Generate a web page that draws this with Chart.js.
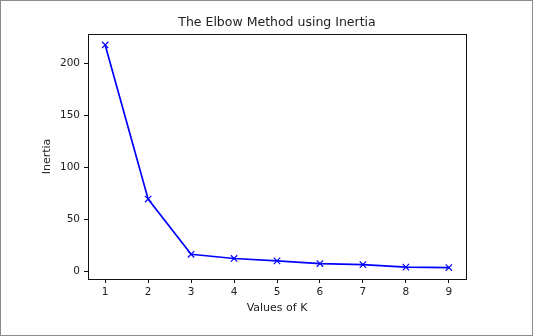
<!DOCTYPE html>
<html>
<head>
<meta charset="utf-8">
<script src="https://cdn.jsdelivr.net/npm/chart.js@4.4.0/dist/chart.umd.min.js"></script>
<style>
  html, body { margin: 0; padding: 0; background: #fff; }
  canvas { display: block; }
</style>
</head>
<body>
<canvas id="elbowChart" width="533" height="336"></canvas>
<script>
// K values tried and the inertia obtained for each
const kValues = [1, 2, 3, 4, 5, 6, 7, 8, 9];
const inertia = [217.5, 69.5, 16.5, 12.5, 10.2, 7.6, 6.6, 4.2, 3.8];
const yTicks = [0, 50, 100, 150, 200];

const FONT = "'DejaVu Sans', sans-serif";
const TEXT = "#222";

// outer frame around the figure and the box around the axes
const framePlugin = {
    id: "frame",
    beforeDraw(chart) {
        const ctx = chart.ctx;
        ctx.save();
        ctx.fillStyle = "#fff";
        ctx.fillRect(0, 0, chart.width, chart.height);
        ctx.strokeStyle = "#8c8c8c";
        ctx.lineWidth = 1;
        ctx.strokeRect(0.5, 0.5, chart.width - 1, chart.height - 1);
        ctx.restore();
    },
    afterDatasetsDraw(chart) {
        const a = chart.chartArea;
        const ctx = chart.ctx;
        ctx.save();
        ctx.strokeStyle = "#111";
        ctx.lineWidth = 1;
        ctx.strokeRect(Math.round(a.left) + 0.5, Math.round(a.top) + 0.5,
            Math.round(a.right - a.left), Math.round(a.bottom - a.top));
        ctx.restore();
    }
};

let ctx = document.getElementById("elbowChart").getContext("2d");

new Chart(ctx, {
    type: "line",
    data: {
        datasets: [{
            data: kValues.map((k, i) => ({ x: k, y: inertia[i] })),
            borderColor: "#0000ff",
            borderWidth: 1.7,
            pointStyle: "crossRot",
            pointRadius: 4.5,
            pointBorderColor: "#0000ff",
            pointBorderWidth: 1.2,
            tension: 0,
            fill: false
        }]
    },
    options: {
        responsive: false,
        devicePixelRatio: 1,
        animation: false,
        layout: { padding: { left: 0, right: 67, top: 0, bottom: 0 } },
        plugins: {
            legend: { display: false },
            tooltip: { enabled: false },
            title: {
                display: true,
                fullSize: false,
                text: "The Elbow Method using Inertia",
                color: TEXT,
                font: { family: FONT, size: 12.5, weight: "normal" },
                padding: { top: 15, bottom: 4 }
            }
        },
        scales: {
            x: {
                type: "linear",
                min: 0.6,
                max: 9.4,
                afterBuildTicks: scale => { scale.ticks = kValues.map(v => ({ value: v })); },
                afterFit: scale => { scale.height = 57; },
                grid: { drawOnChartArea: false, tickLength: 4, color: "#111" },
                border: { display: false },
                ticks: { color: TEXT, font: { family: FONT, size: 10.5 }, padding: 3, maxRotation: 0 },
                title: {
                    display: true,
                    text: "Values of K",
                    color: TEXT,
                    font: { family: FONT, size: 11 },
                    padding: { top: 0, bottom: 21 }
                }
            },
            y: {
                min: -7.2,
                max: 228,
                afterBuildTicks: scale => { scale.ticks = yTicks.map(v => ({ value: v })); },
                afterFit: scale => { scale.width = 88; },
                grid: { drawOnChartArea: false, tickLength: 4, color: "#111" },
                border: { display: false },
                ticks: { color: TEXT, font: { family: FONT, size: 10.5 }, padding: 4 },
                title: {
                    display: true,
                    text: "Inertia",
                    color: TEXT,
                    font: { family: FONT, size: 11 },
                    padding: { top: 41, bottom: 0 }
                }
            }
        }
    },
    plugins: [framePlugin]
});
</script>
</body>
</html>
